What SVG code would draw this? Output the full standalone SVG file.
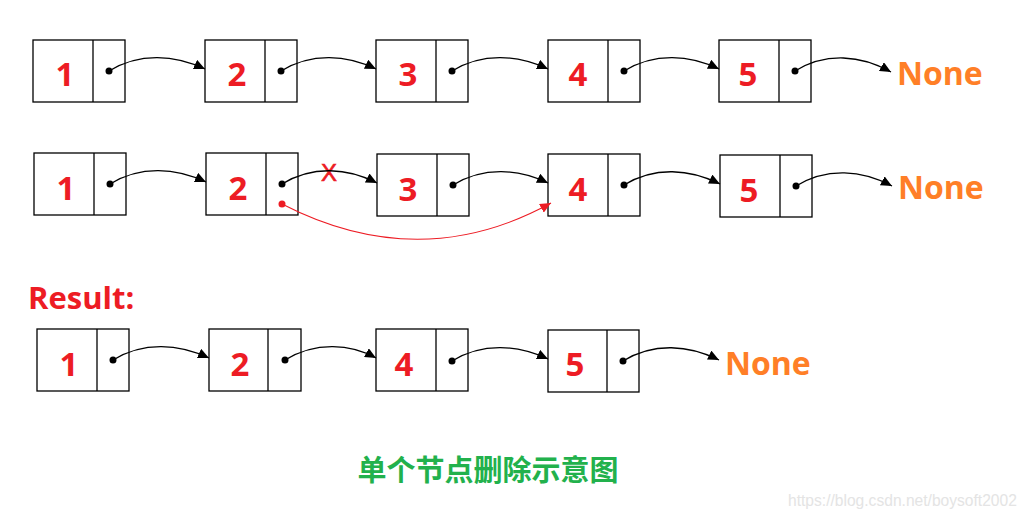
<svg xmlns="http://www.w3.org/2000/svg" width="1028" height="519" viewBox="0 0 1028 519">
<defs>
<style>
.box{fill:#fff;stroke:#000;stroke-width:1.3}
.div{stroke:#000;stroke-width:1.3}
.num{font-family:"Open Sans","Noto Sans",sans-serif;font-weight:bold;font-size:33px;fill:#ED1C24;text-anchor:middle}
.none{font-family:"Open Sans","Noto Sans",sans-serif;font-weight:bold;font-size:32px;fill:#FF7F27}
.dot{fill:#000}
.link{fill:none;stroke:#000;stroke-width:1.3;marker-end:url(#ah)}
.red{fill:none;stroke:#ED1C24;stroke-width:1.1;marker-end:url(#ahr)}
</style>
<marker id="ah" markerUnits="userSpaceOnUse" markerWidth="12" markerHeight="10" refX="11" refY="5" orient="auto"><path d="M0,0 L11,5 L0,10 z" fill="#000"/></marker>
<marker id="ahr" markerUnits="userSpaceOnUse" markerWidth="12" markerHeight="10" refX="11" refY="5" orient="auto"><path d="M0,0 L11,5 L0,10 z" fill="#ED1C24"/></marker>
</defs>
<rect width="1028" height="519" fill="#fff"/>

<!-- Row 1 -->
<g id="r1n1"><rect class="box" x="33" y="40" width="92" height="62"/><line class="div" x1="93" y1="40" x2="93" y2="102"/><text class="num" x="65" y="86">1</text><circle class="dot" cx="109" cy="71" r="3.5"/></g>
<g id="r1n2"><rect class="box" x="205" y="40" width="92" height="62"/><line class="div" x1="265" y1="40" x2="265" y2="102"/><text class="num" x="237" y="86">2</text><circle class="dot" cx="281" cy="71" r="3.5"/></g>
<g id="r1n3"><rect class="box" x="376" y="40" width="92" height="62"/><line class="div" x1="436" y1="40" x2="436" y2="102"/><text class="num" x="408" y="86">3</text><circle class="dot" cx="452" cy="71" r="3.5"/></g>
<g id="r1n4"><rect class="box" x="548" y="40" width="92" height="62"/><line class="div" x1="608" y1="40" x2="608" y2="102"/><text class="num" x="578" y="86">4</text><circle class="dot" cx="624" cy="71" r="3.5"/></g>
<g id="r1n5"><rect class="box" x="719" y="40" width="92" height="62"/><line class="div" x1="779" y1="40" x2="779" y2="102"/><text class="num" x="748" y="86">5</text><circle class="dot" cx="795" cy="71" r="3.5"/></g>
<g id="r1none"><text class="none" x="897" y="85">None</text></g>

<!-- Row 2 -->
<g id="r2n1"><rect class="box" x="34" y="153" width="92" height="62"/><line class="div" x1="94" y1="153" x2="94" y2="215"/><text class="num" x="66" y="200">1</text><circle class="dot" cx="110" cy="184" r="3.5"/></g>
<g id="r2n2"><rect class="box" x="206" y="153" width="92" height="62"/><line class="div" x1="266" y1="153" x2="266" y2="215"/><text class="num" x="238" y="200">2</text><circle class="dot" cx="282" cy="184" r="3.5"/><circle cx="282" cy="204" r="3.5" fill="#ED1C24"/></g>
<g id="r2n3"><rect class="box" x="377" y="154" width="92" height="62"/><line class="div" x1="437" y1="154" x2="437" y2="216"/><text class="num" x="408" y="201">3</text><circle class="dot" cx="453" cy="185" r="3.5"/></g>
<g id="r2n4"><rect class="box" x="548" y="154" width="92" height="62"/><line class="div" x1="608" y1="154" x2="608" y2="216"/><text class="num" x="578" y="201">4</text><circle class="dot" cx="624" cy="185" r="3.5"/></g>
<g id="r2n5"><rect class="box" x="720" y="155" width="92" height="62"/><line class="div" x1="780" y1="155" x2="780" y2="217"/><text class="num" x="749" y="202">5</text><circle class="dot" cx="796" cy="186" r="3.5"/></g>
<g id="r2none"><text class="none" x="898" y="199">None</text></g>
<text x="329" y="181" font-family="Liberation Sans, Arial, sans-serif" font-size="24" fill="#ED1C24" stroke="#ED1C24" stroke-width="0.6" text-anchor="middle">X</text>

<!-- Row 3 -->
<text x="28" y="309" font-family="Open Sans, Noto Sans, sans-serif" font-weight="bold" font-size="31" fill="#ED1C24">Result:</text>
<g id="r3n1"><rect class="box" x="37" y="329" width="92" height="62"/><line class="div" x1="97" y1="329" x2="97" y2="391"/><text class="num" x="69" y="376">1</text><circle class="dot" cx="113" cy="360" r="3.5"/></g>
<g id="r3n2"><rect class="box" x="209" y="329" width="92" height="62"/><line class="div" x1="268" y1="329" x2="268" y2="391"/><text class="num" x="240" y="376">2</text><circle class="dot" cx="285" cy="360" r="3.5"/></g>
<g id="r3n4"><rect class="box" x="376" y="329" width="92" height="62"/><line class="div" x1="436" y1="329" x2="436" y2="391"/><text class="num" x="404" y="376">4</text><circle class="dot" cx="452" cy="361" r="3.5"/></g>
<g id="r3n5"><rect class="box" x="548" y="330" width="91" height="62"/><line class="div" x1="607" y1="330" x2="607" y2="392"/><text class="num" x="575" y="376">5</text><circle class="dot" cx="623" cy="361" r="3.5"/></g>
<g id="r3none"><text class="none" x="725" y="375">None</text></g>

<!-- Connectors -->
<g id="connectors">
<path class="link" d="M109,71 C140,52 175,55 205,69"/>
<path class="link" d="M281,71 C312,52 347,55 376,69"/>
<path class="link" d="M452,71 C483,52 518,55 548,69"/>
<path class="link" d="M624,71 C655,52 690,55 719,69"/>
<path class="link" d="M795,71 C826,52 861,55 891,72"/>

<path class="link" d="M110,184 C141,165 176,168 206,182"/>
<path class="link" d="M282,184 C313,165 348,168 377,183"/>
<path class="link" d="M453,185 C484,166 519,169 548,183"/>
<path class="link" d="M624,185 C655,166 690,169 720,184"/>
<path class="link" d="M796,186 C827,167 862,170 892,186"/>
<path class="red" d="M282,204 Q420,275 551,203"/>

<path class="link" d="M113,360 C144,341 179,344 209,358"/>
<path class="link" d="M285,360 C316,341 351,344 376,358"/>
<path class="link" d="M452,361 C483,342 518,345 548,359"/>
<path class="link" d="M623,361 C654,342 689,345 719,360"/>
</g>

<text x="488" y="481" font-family="Noto Sans CJK SC, sans-serif" font-weight="bold" font-size="29" fill="#22B14C" text-anchor="middle">单个节点删除示意图</text>
<text x="788" y="506" font-family="Liberation Sans, Arial, sans-serif" font-size="15.6" fill="#e4e4e4">https://blog.csdn.net/boysoft2002</text>
</svg>
